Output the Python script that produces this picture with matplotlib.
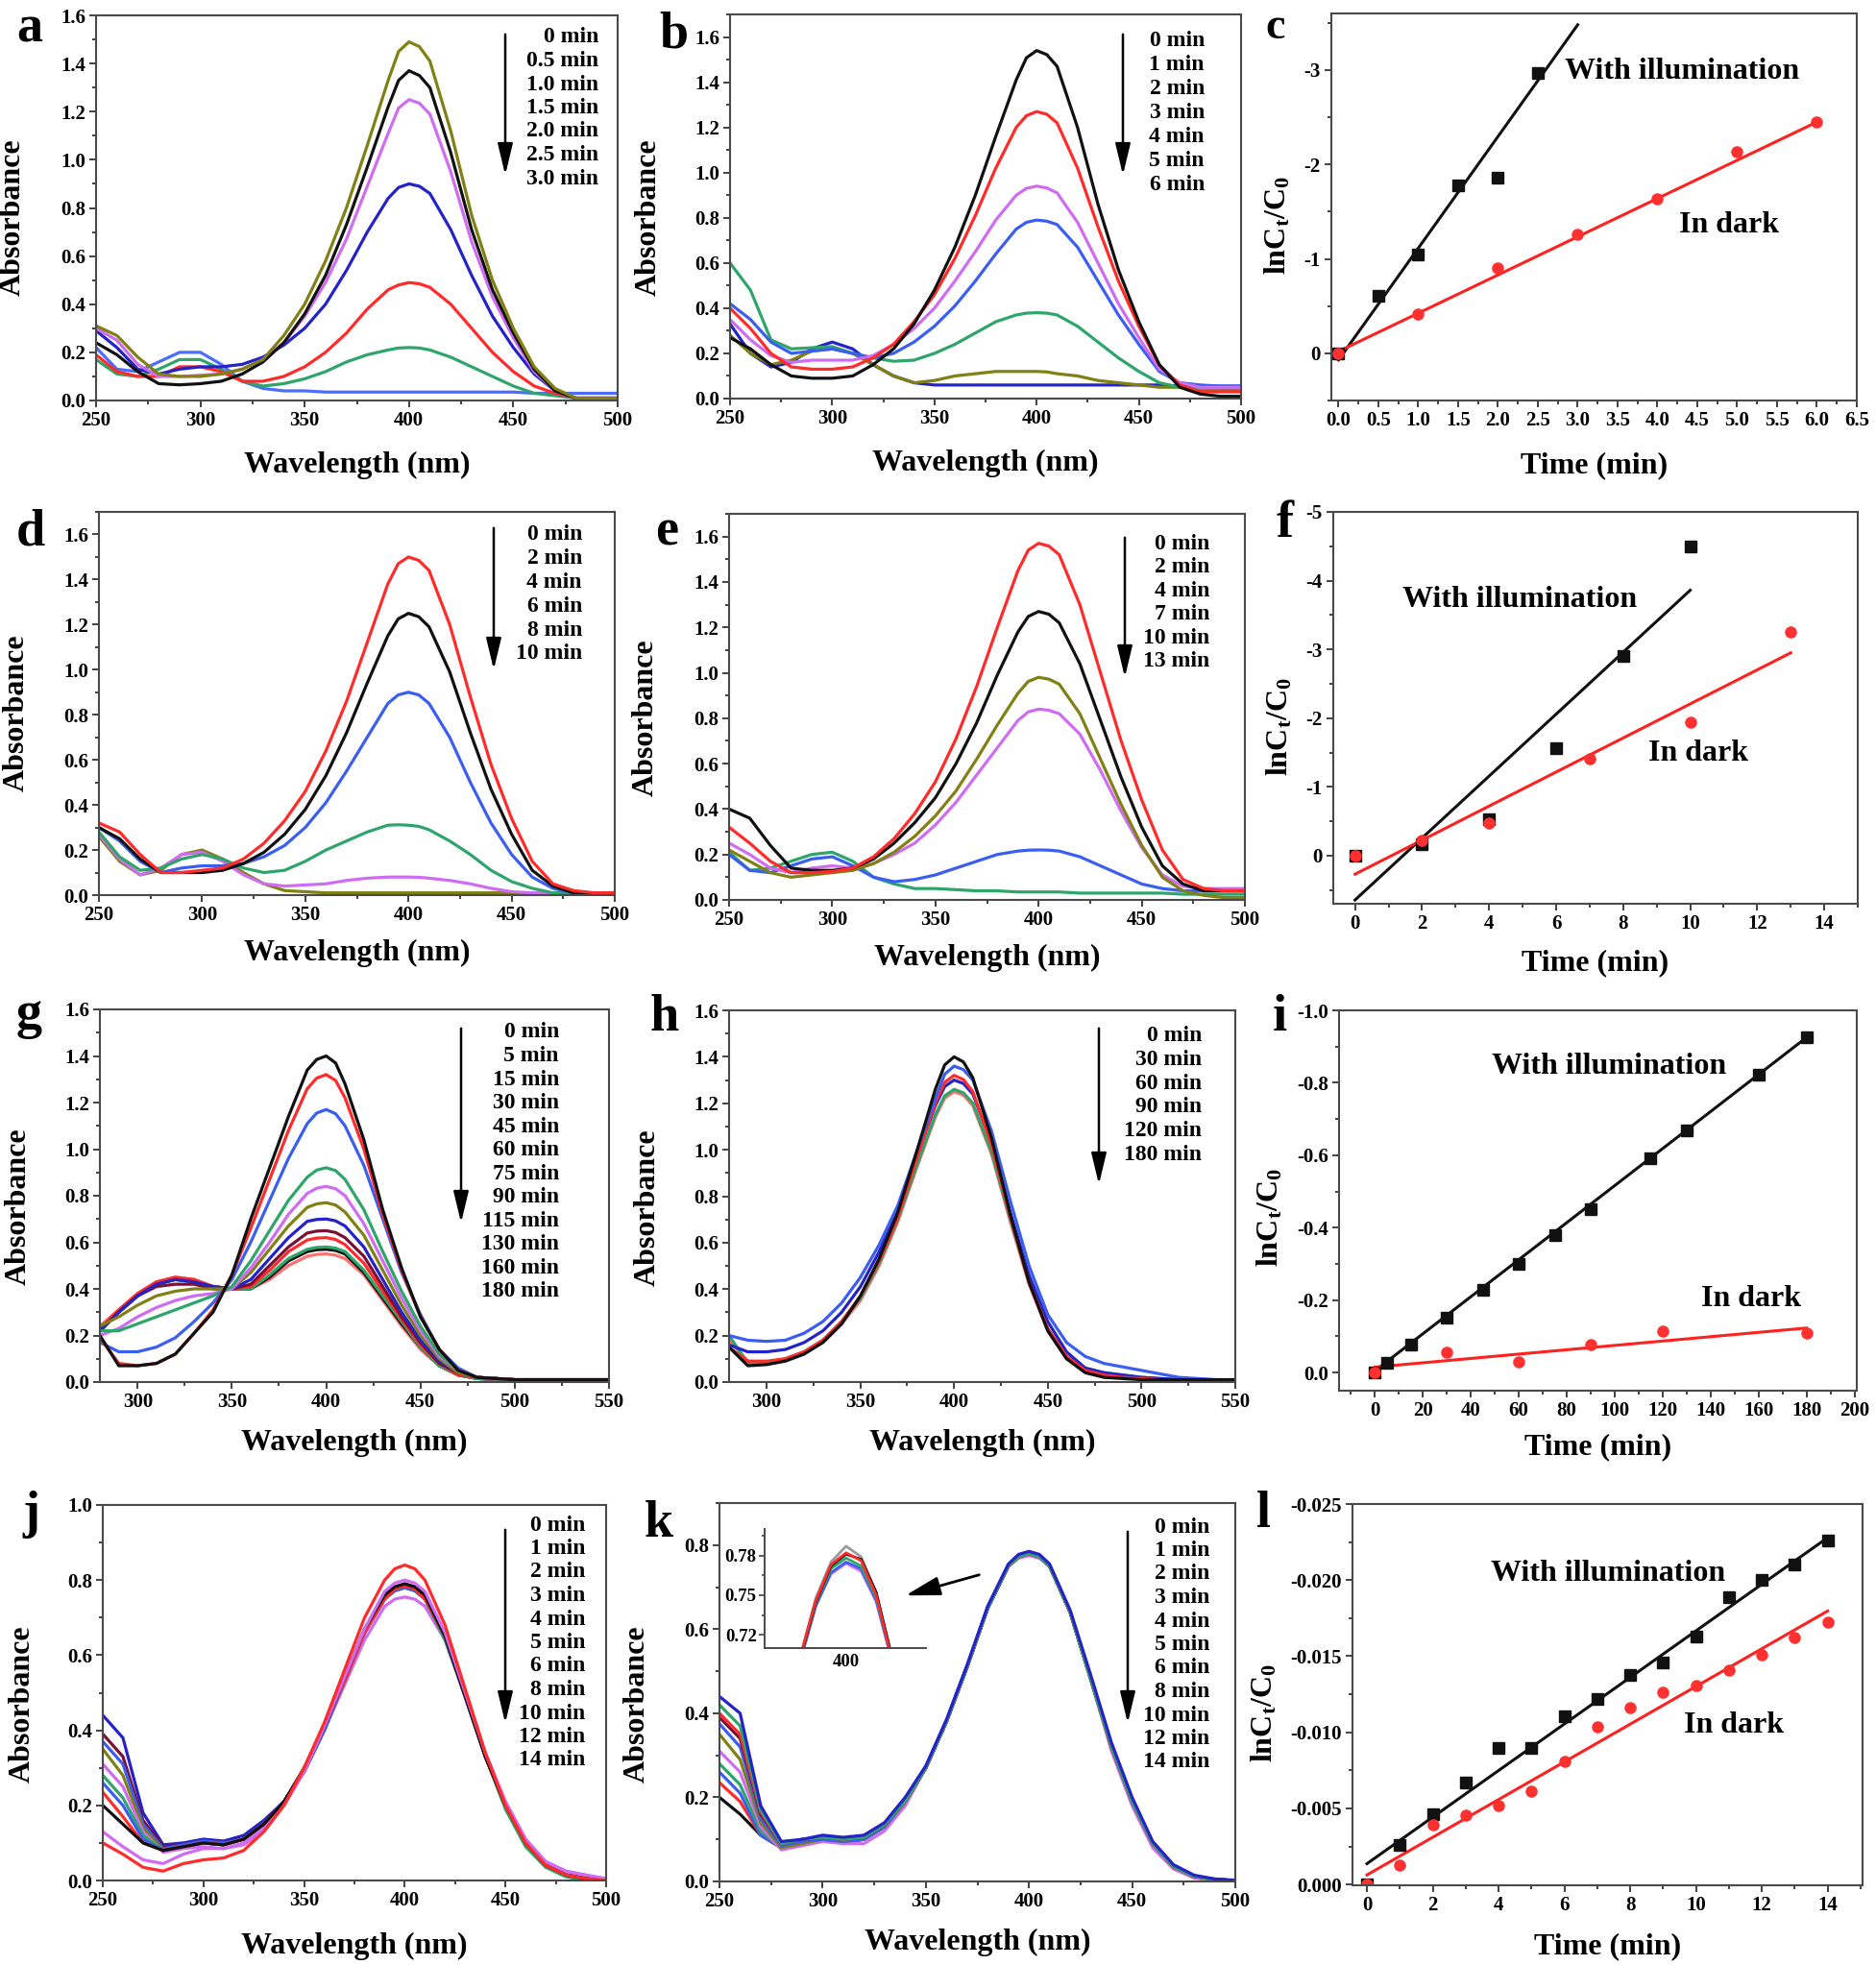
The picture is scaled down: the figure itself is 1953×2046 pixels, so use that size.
import matplotlib
matplotlib.use("Agg")
import matplotlib.pyplot as plt
from matplotlib.patches import FancyArrowPatch
from matplotlib.ticker import MultipleLocator, FormatStrFormatter, FuncFormatter

W, H = 1953, 2046

plt.rcParams.update({
    "font.family": ["Liberation Serif", "DejaVu Serif"],
    "font.weight": "bold",
    "axes.labelweight": "bold",
    "mathtext.fontset": "custom",
    "mathtext.rm": "Liberation Serif:bold",
    "mathtext.it": "Liberation Serif:bold",
    "mathtext.bf": "Liberation Serif:bold",
    "mathtext.default": "bf",
    "axes.unicode_minus": False,
})

BLACK = "#111111"
RED = "#ff2b2b"
BLUE = "#3c5ef0"
DBLUE = "#2323c8"
LBLUE = "#4a6cff"
GREEN = "#2ea56a"
VIOLET = "#cf6cf2"
OLIVE = "#808014"
MAROON = "#7a1035"
SALMON = "#ff7070"
GRAY = "#9a9a9a"
FRAME = "#4a4a4a"

# ---------------- data ----------------
# sampling wavelengths (nm); extra points around the 400 nm band maximum
WL_250 = [250, 260, 270, 280, 290, 300, 310, 320,
          330, 340, 350, 360, 370, 380, 390,
          395, 400, 405,
          410, 420, 430, 440, 450, 460, 470, 480, 490, 500]
WL_280 = [280, 290, 300, 310, 320, 330, 340, 350, 360, 370, 380, 390,
          395, 400, 405,
          410, 420, 430, 440, 450, 460, 470, 480, 490, 500, 510, 520, 530, 540, 550]

# panel a
A_OLIVE = [0.31, 0.27, 0.18, 0.11, 0.10, 0.10, 0.11, 0.13,
           0.17, 0.27, 0.40, 0.58, 0.80, 1.06, 1.33,
           1.45, 1.49, 1.47,
           1.41, 1.12, 0.77, 0.50, 0.30, 0.14, 0.05, 0.01, 0.01, 0.01]
A_BLACK = [0.24, 0.19, 0.12, 0.07, 0.065, 0.07, 0.08, 0.11,
           0.16, 0.24, 0.36, 0.52, 0.73, 0.97, 1.22,
           1.33, 1.37, 1.35,
           1.30, 1.03, 0.71, 0.46, 0.28, 0.13, 0.04, 0.01, 0.005, 0.005]
A_VIOLET = [0.30, 0.25, 0.15, 0.10, 0.10, 0.105, 0.11, 0.13,
            0.17, 0.24, 0.35, 0.49, 0.67, 0.89, 1.11,
            1.215, 1.25, 1.235,
            1.19, 0.95, 0.66, 0.43, 0.26, 0.12, 0.04, 0.01, 0.01, 0.01]
A_BLUE = [0.29, 0.22, 0.13, 0.11, 0.13, 0.14, 0.14, 0.15,
          0.18, 0.23, 0.30, 0.40, 0.54, 0.70, 0.84,
          0.885, 0.90, 0.89,
          0.86, 0.71, 0.52, 0.35, 0.22, 0.11, 0.04, 0.01, 0.01, 0.01]
A_RED = [0.19, 0.12, 0.10, 0.10, 0.14, 0.14, 0.12, 0.08,
         0.08, 0.10, 0.14, 0.20, 0.28, 0.38, 0.46,
         0.48, 0.49, 0.485,
         0.47, 0.40, 0.30, 0.20, 0.12, 0.06, 0.03, 0.01, 0.01, 0.01]
A_GREEN = [0.17, 0.11, 0.10, 0.13, 0.17, 0.17, 0.13, 0.08,
           0.06, 0.07, 0.09, 0.12, 0.16, 0.19, 0.21,
           0.218, 0.22, 0.218,
           0.21, 0.18, 0.14, 0.10, 0.06, 0.03, 0.02, 0.01, 0.01, 0.01]
A_LBLUE = [0.22, 0.13, 0.12, 0.16, 0.20, 0.20, 0.15, 0.08,
           0.05, 0.04, 0.04, 0.035, 0.035, 0.035, 0.035,
           0.035, 0.035, 0.035,
           0.035, 0.035, 0.035, 0.035, 0.035, 0.03, 0.03, 0.03, 0.03, 0.03]
A_LABELS = ["0 min", "0.5 min", "1.0 min", "1.5 min", "2.0 min", "2.5 min", "3.0 min"]

# panel b
B_BLACK = [0.27, 0.22, 0.15, 0.10, 0.09, 0.09, 0.10, 0.15,
           0.22, 0.33, 0.48, 0.67, 0.90, 1.16, 1.41,
           1.508, 1.54, 1.522,
           1.47, 1.20, 0.86, 0.57, 0.34, 0.15, 0.05, 0.02, 0.01, 0.01]
B_RED = [0.40, 0.31, 0.20, 0.14, 0.13, 0.13, 0.14, 0.18,
         0.24, 0.34, 0.46, 0.62, 0.81, 1.02, 1.20,
         1.252, 1.27, 1.258,
         1.22, 1.02, 0.76, 0.52, 0.32, 0.15, 0.06, 0.03, 0.03, 0.03]
B_VIOLET = [0.35, 0.26, 0.19, 0.16, 0.17, 0.17, 0.17, 0.19,
            0.24, 0.31, 0.40, 0.52, 0.65, 0.79, 0.90,
            0.93, 0.94, 0.932,
            0.91, 0.78, 0.60, 0.42, 0.27, 0.13, 0.07, 0.05, 0.05, 0.05]
B_BLUE = [0.42, 0.35, 0.25, 0.20, 0.21, 0.22, 0.20, 0.18,
          0.20, 0.25, 0.32, 0.41, 0.52, 0.64, 0.75,
          0.78, 0.79, 0.785,
          0.77, 0.67, 0.52, 0.37, 0.24, 0.12, 0.07, 0.06, 0.055, 0.055]
B_GREEN = [0.60, 0.48, 0.26, 0.22, 0.225, 0.23, 0.20, 0.18,
           0.165, 0.17, 0.20, 0.24, 0.29, 0.34, 0.37,
           0.378, 0.38, 0.378,
           0.37, 0.32, 0.25, 0.18, 0.12, 0.07, 0.05, 0.045, 0.045, 0.045]
B_OLIVE = [0.28, 0.20, 0.15, 0.17, 0.21, 0.22, 0.20, 0.15,
           0.10, 0.07, 0.08, 0.10, 0.11, 0.12, 0.12,
           0.12, 0.12, 0.118,
           0.11, 0.10, 0.08, 0.07, 0.06, 0.05, 0.05, 0.04, 0.04, 0.04]
B_DBLUE = [0.33, 0.20, 0.14, 0.16, 0.22, 0.25, 0.22, 0.15,
           0.10, 0.07, 0.06, 0.06, 0.06, 0.06, 0.06,
           0.06, 0.06, 0.06,
           0.06, 0.06, 0.06, 0.06, 0.06, 0.06, 0.055, 0.055, 0.055, 0.055]
B_LABELS = ["0 min", "1 min", "2 min", "3 min", "4 min", "5 min", "6 min"]

# panel d
D_RED = [0.32, 0.28, 0.18, 0.10, 0.10, 0.11, 0.12, 0.16,
         0.23, 0.33, 0.46, 0.64, 0.86, 1.12, 1.38,
         1.47, 1.50, 1.485,
         1.44, 1.20, 0.88, 0.58, 0.34, 0.15, 0.05, 0.02, 0.01, 0.01]
D_BLACK = [0.30, 0.25, 0.16, 0.10, 0.10, 0.10, 0.11, 0.14,
           0.19, 0.27, 0.38, 0.53, 0.72, 0.94, 1.15,
           1.225, 1.25, 1.235,
           1.19, 0.99, 0.72, 0.47, 0.27, 0.11, 0.04, 0.01, 0.01, 0.01]
D_BLUE = [0.30, 0.24, 0.15, 0.10, 0.12, 0.13, 0.13, 0.14,
          0.17, 0.22, 0.30, 0.41, 0.55, 0.70, 0.85,
          0.888, 0.90, 0.888,
          0.85, 0.70, 0.50, 0.32, 0.18, 0.08, 0.03, 0.01, 0.01, 0.01]
D_GREEN = [0.28, 0.17, 0.11, 0.12, 0.16, 0.18, 0.16, 0.12,
           0.10, 0.11, 0.15, 0.20, 0.24, 0.28, 0.31,
           0.312, 0.31, 0.305,
           0.29, 0.24, 0.18, 0.11, 0.06, 0.03, 0.01, 0.01, 0.01, 0.01]
D_VIOLET = [0.27, 0.16, 0.09, 0.12, 0.18, 0.19, 0.15, 0.09,
            0.05, 0.04, 0.045, 0.05, 0.065, 0.075, 0.08,
            0.08, 0.08, 0.079,
            0.075, 0.065, 0.05, 0.03, 0.015, 0.01, 0.01, 0.005, 0.005, 0.005]
D_OLIVE = [0.26, 0.15, 0.09, 0.11, 0.18, 0.20, 0.16, 0.10,
           0.05, 0.02, 0.015, 0.01, 0.01, 0.01, 0.01,
           0.01, 0.01, 0.01,
           0.01, 0.01, 0.01, 0.01, 0.01, 0.01, 0.01, 0.01, 0.01, 0.01]
D_LABELS = ["0 min", "2 min", "4 min", "6 min", "8 min", "10 min"]

# panel e
E_RED = [0.32, 0.25, 0.17, 0.12, 0.12, 0.125, 0.14, 0.19,
         0.27, 0.38, 0.52, 0.71, 0.94, 1.20, 1.45,
         1.54, 1.57, 1.558,
         1.52, 1.30, 1.00, 0.70, 0.44, 0.22, 0.09, 0.05, 0.04, 0.04]
E_BLACK = [0.40, 0.36, 0.24, 0.14, 0.13, 0.13, 0.14, 0.18,
           0.25, 0.34, 0.45, 0.60, 0.78, 0.99, 1.18,
           1.248, 1.27, 1.258,
           1.22, 1.04, 0.79, 0.54, 0.32, 0.15, 0.07, 0.04, 0.04, 0.04]
E_OLIVE = [0.22, 0.17, 0.12, 0.10, 0.11, 0.12, 0.13, 0.16,
           0.21, 0.28, 0.37, 0.48, 0.62, 0.77, 0.91,
           0.962, 0.98, 0.972,
           0.95, 0.82, 0.62, 0.42, 0.24, 0.10, 0.04, 0.02, 0.01, 0.01]
E_VIOLET = [0.25, 0.20, 0.14, 0.12, 0.14, 0.15, 0.14, 0.16,
            0.20, 0.25, 0.33, 0.43, 0.55, 0.67, 0.79,
            0.828, 0.84, 0.835,
            0.82, 0.73, 0.57, 0.39, 0.23, 0.11, 0.06, 0.05, 0.05, 0.05]
E_BLUE = [0.20, 0.13, 0.12, 0.15, 0.18, 0.19, 0.15, 0.10,
          0.08, 0.09, 0.11, 0.14, 0.17, 0.20, 0.215,
          0.219, 0.22, 0.219,
          0.215, 0.19, 0.15, 0.11, 0.07, 0.05, 0.04, 0.04, 0.04, 0.04]
E_GREEN = [0.21, 0.13, 0.14, 0.17, 0.20, 0.21, 0.17, 0.10,
           0.07, 0.05, 0.05, 0.045, 0.04, 0.04, 0.035,
           0.035, 0.035, 0.035,
           0.035, 0.03, 0.03, 0.03, 0.03, 0.03, 0.025, 0.025, 0.025, 0.025]
E_LABELS = ["0 min", "2 min", "4 min", "7 min", "10 min", "13 min"]

# panel g
G_BLACK = [0.20, 0.07, 0.07, 0.08, 0.12, 0.21, 0.30, 0.46, 0.70, 0.92, 1.14, 1.34,
           1.385, 1.40, 1.37,
           1.28, 1.04, 0.74, 0.49, 0.28, 0.14, 0.05, 0.02, 0.015, 0.01,
           0.01, 0.01, 0.01, 0.01, 0.01]
G_RED = [0.19, 0.08, 0.07, 0.08, 0.12, 0.21, 0.31, 0.46, 0.66, 0.87, 1.08, 1.26,
         1.305, 1.32, 1.295,
         1.22, 1.00, 0.72, 0.48, 0.28, 0.14, 0.05, 0.02, 0.015, 0.01,
         0.01, 0.01, 0.01, 0.01, 0.01]
G_BLUE = [0.17, 0.13, 0.13, 0.15, 0.19, 0.26, 0.34, 0.44, 0.60, 0.78, 0.96, 1.11,
          1.155, 1.17, 1.152,
          1.10, 0.93, 0.70, 0.47, 0.29, 0.14, 0.06, 0.02, 0.015, 0.01,
          0.01, 0.01, 0.01, 0.01, 0.01]
G_GREEN = [0.22, 0.22, 0.25, 0.28, 0.31, 0.34, 0.37, 0.41, 0.52, 0.65, 0.78, 0.88,
           0.91, 0.92, 0.908,
           0.87, 0.74, 0.56, 0.39, 0.24, 0.12, 0.05, 0.02, 0.015, 0.01,
           0.01, 0.01, 0.01, 0.01, 0.01]
G_VIOLET = [0.20, 0.23, 0.28, 0.32, 0.35, 0.37, 0.38, 0.40, 0.49, 0.60, 0.72, 0.81,
            0.832, 0.84, 0.83,
            0.80, 0.68, 0.52, 0.36, 0.22, 0.11, 0.05, 0.02, 0.015, 0.01,
            0.01, 0.01, 0.01, 0.01, 0.01]
G_OLIVE = [0.24, 0.28, 0.33, 0.37, 0.39, 0.40, 0.40, 0.40, 0.47, 0.57, 0.67, 0.75,
           0.765, 0.77, 0.76,
           0.73, 0.63, 0.48, 0.33, 0.20, 0.10, 0.04, 0.02, 0.015, 0.01,
           0.01, 0.01, 0.01, 0.01, 0.01]
G_DBLUE = [0.22, 0.30, 0.37, 0.42, 0.44, 0.43, 0.41, 0.40, 0.44, 0.53, 0.62, 0.69,
           0.698, 0.70, 0.692,
           0.67, 0.58, 0.44, 0.30, 0.18, 0.09, 0.04, 0.02, 0.015, 0.01,
           0.01, 0.01, 0.01, 0.01, 0.01]
G_MAROON = [0.22, 0.30, 0.37, 0.41, 0.42, 0.42, 0.40, 0.40, 0.42, 0.50, 0.58, 0.64,
            0.648, 0.65, 0.642,
            0.62, 0.54, 0.41, 0.28, 0.17, 0.08, 0.04, 0.02, 0.015, 0.01,
            0.01, 0.01, 0.01, 0.01, 0.01]
G_RED2 = [0.23, 0.31, 0.38, 0.43, 0.45, 0.44, 0.41, 0.40, 0.41, 0.48, 0.56, 0.61,
          0.618, 0.62, 0.612,
          0.59, 0.51, 0.39, 0.27, 0.16, 0.08, 0.03, 0.02, 0.015, 0.01,
          0.01, 0.01, 0.01, 0.01, 0.01]
G_GREEN2 = [0.22, 0.30, 0.37, 0.42, 0.44, 0.43, 0.41, 0.40, 0.40, 0.46, 0.53, 0.57,
            0.578, 0.58, 0.575,
            0.56, 0.48, 0.37, 0.26, 0.15, 0.07, 0.03, 0.015, 0.01, 0.01,
            0.01, 0.01, 0.01, 0.01, 0.01]
G_BLACK2 = [0.22, 0.30, 0.37, 0.42, 0.44, 0.43, 0.41, 0.40, 0.40, 0.45, 0.52, 0.56,
            0.568, 0.57, 0.565,
            0.55, 0.47, 0.36, 0.25, 0.15, 0.07, 0.03, 0.015, 0.01, 0.01,
            0.01, 0.01, 0.01, 0.01, 0.01]
G_SALMON = [0.24, 0.31, 0.38, 0.43, 0.45, 0.44, 0.41, 0.40, 0.40, 0.44, 0.50, 0.54,
            0.548, 0.55, 0.545,
            0.53, 0.46, 0.35, 0.24, 0.14, 0.07, 0.03, 0.015, 0.01, 0.01,
            0.01, 0.01, 0.01, 0.01, 0.01]
G_LABELS = ["0 min", "5 min", "15 min", "30 min", "45 min", "60 min", "75 min",
            "90 min", "115 min", "130 min", "160 min", "180 min"]

# panel h
H_BLACK = [0.15, 0.07, 0.075, 0.09, 0.12, 0.17, 0.25, 0.37, 0.53, 0.73, 0.99, 1.26,
           1.365, 1.40, 1.378,
           1.31, 1.05, 0.72, 0.43, 0.22, 0.10, 0.04, 0.02, 0.015, 0.01,
           0.01, 0.01, 0.01, 0.01, 0.01]
H_BLUE = [0.20, 0.18, 0.175, 0.18, 0.21, 0.26, 0.34, 0.45, 0.59, 0.76, 0.99, 1.22,
          1.325, 1.36, 1.345,
          1.30, 1.08, 0.78, 0.50, 0.29, 0.17, 0.11, 0.08, 0.065, 0.05,
          0.035, 0.02, 0.015, 0.01, 0.01]
H_RED = [0.15, 0.09, 0.09, 0.10, 0.13, 0.18, 0.26, 0.37, 0.52, 0.71, 0.96, 1.20,
         1.29, 1.32, 1.302,
         1.25, 1.02, 0.71, 0.43, 0.23, 0.11, 0.05, 0.03, 0.02, 0.015,
         0.01, 0.01, 0.01, 0.01, 0.01]
H_DBLUE = [0.16, 0.13, 0.13, 0.14, 0.17, 0.22, 0.30, 0.41, 0.56, 0.74, 0.97, 1.19,
           1.272, 1.30, 1.285,
           1.24, 1.03, 0.73, 0.46, 0.26, 0.13, 0.06, 0.04, 0.03, 0.02,
           0.015, 0.01, 0.01, 0.01, 0.01]
H_GREEN = [0.20, 0.08, 0.08, 0.10, 0.13, 0.18, 0.26, 0.36, 0.51, 0.70, 0.93, 1.15,
           1.232, 1.26, 1.245,
           1.20, 0.99, 0.70, 0.43, 0.23, 0.11, 0.06, 0.04, 0.03, 0.02,
           0.015, 0.01, 0.01, 0.01, 0.01]
H_SALMON = [0.18, 0.09, 0.085, 0.10, 0.13, 0.17, 0.25, 0.35, 0.50, 0.69, 0.92, 1.14,
            1.222, 1.25, 1.235,
            1.19, 0.98, 0.69, 0.42, 0.22, 0.10, 0.05, 0.03, 0.02, 0.015,
            0.01, 0.01, 0.01, 0.01, 0.01]
H_LABELS = ["0 min", "30 min", "60 min", "90 min", "120 min", "180 min"]

# panel j
J_RED = [0.10, 0.07, 0.035, 0.025, 0.045, 0.055, 0.06, 0.08,
         0.13, 0.20, 0.30, 0.42, 0.56, 0.70, 0.80,
         0.83, 0.84, 0.83,
         0.80, 0.68, 0.51, 0.34, 0.20, 0.10, 0.04, 0.015, 0.005, 0.0]
J_VIOLET = [0.13, 0.09, 0.055, 0.045, 0.07, 0.085, 0.085, 0.095,
            0.13, 0.20, 0.29, 0.41, 0.54, 0.67, 0.77,
            0.792, 0.80, 0.792,
            0.77, 0.66, 0.50, 0.34, 0.21, 0.11, 0.05, 0.025, 0.015, 0.005]
J_BLACK = [0.20, 0.15, 0.10, 0.08, 0.09, 0.10, 0.095, 0.11,
           0.15, 0.21, 0.30, 0.41, 0.54, 0.67, 0.76,
           0.782, 0.79, 0.782,
           0.76, 0.65, 0.49, 0.33, 0.20, 0.10, 0.04, 0.015, 0.005, 0.0]
J_RED2 = [0.235, 0.17, 0.10, 0.08, 0.09, 0.10, 0.095, 0.11,
          0.15, 0.21, 0.29, 0.41, 0.53, 0.66, 0.75,
          0.776, 0.785, 0.776,
          0.75, 0.65, 0.49, 0.33, 0.20, 0.10, 0.04, 0.015, 0.005, 0.0]
J_BLUE = [0.26, 0.20, 0.11, 0.08, 0.09, 0.10, 0.095, 0.11,
          0.15, 0.21, 0.29, 0.40, 0.53, 0.66, 0.75,
          0.772, 0.78, 0.772,
          0.75, 0.65, 0.49, 0.33, 0.20, 0.10, 0.04, 0.015, 0.005, 0.0]
J_GREEN = [0.28, 0.22, 0.12, 0.08, 0.09, 0.10, 0.095, 0.11,
           0.15, 0.21, 0.29, 0.40, 0.53, 0.66, 0.75,
           0.772, 0.78, 0.772,
           0.75, 0.64, 0.49, 0.33, 0.19, 0.09, 0.035, 0.01, 0.0, 0.0]
J_VIOLET2 = [0.31, 0.25, 0.13, 0.075, 0.085, 0.09, 0.085, 0.10,
             0.14, 0.20, 0.29, 0.40, 0.52, 0.64, 0.73,
             0.749, 0.755, 0.749,
             0.73, 0.64, 0.49, 0.34, 0.21, 0.11, 0.05, 0.025, 0.012, 0.005]
J_OLIVE = [0.35, 0.28, 0.14, 0.08, 0.09, 0.10, 0.095, 0.11,
           0.15, 0.21, 0.29, 0.40, 0.53, 0.66, 0.75,
           0.772, 0.78, 0.772,
           0.75, 0.65, 0.49, 0.33, 0.20, 0.10, 0.04, 0.015, 0.005, 0.0]
J_BLUE2 = [0.37, 0.31, 0.15, 0.085, 0.095, 0.105, 0.10, 0.11,
           0.15, 0.21, 0.29, 0.40, 0.53, 0.66, 0.75,
           0.772, 0.78, 0.772,
           0.75, 0.65, 0.49, 0.33, 0.20, 0.10, 0.04, 0.015, 0.005, 0.0]
J_MAROON = [0.39, 0.33, 0.16, 0.09, 0.095, 0.105, 0.10, 0.11,
            0.15, 0.21, 0.29, 0.40, 0.53, 0.66, 0.76,
            0.782, 0.79, 0.782,
            0.76, 0.65, 0.49, 0.33, 0.20, 0.10, 0.04, 0.015, 0.005, 0.0]
J_DBLUE = [0.44, 0.38, 0.18, 0.095, 0.10, 0.11, 0.105, 0.12,
           0.16, 0.21, 0.29, 0.40, 0.53, 0.66, 0.75,
           0.772, 0.78, 0.772,
           0.75, 0.65, 0.49, 0.33, 0.20, 0.10, 0.04, 0.015, 0.005, 0.0]
JK_LABELS = ["0 min", "1 min", "2 min", "3 min", "4 min", "5 min", "6 min",
             "8 min", "10 min", "12 min", "14 min"]

# panel k
K_BLACK = [0.20, 0.16, 0.11, 0.08, 0.09, 0.10, 0.095, 0.10,
           0.13, 0.19, 0.27, 0.38, 0.51, 0.65, 0.75,
           0.772, 0.78, 0.772,
           0.75, 0.64, 0.48, 0.32, 0.19, 0.09, 0.035, 0.012, 0.005, 0.002]
K_RED = [0.235, 0.19, 0.11, 0.08, 0.09, 0.10, 0.095, 0.10,
         0.13, 0.19, 0.27, 0.38, 0.51, 0.65, 0.75,
         0.772, 0.78, 0.772,
         0.75, 0.64, 0.48, 0.32, 0.19, 0.09, 0.033, 0.01, 0.004, 0.002]
K_BLUE = [0.26, 0.21, 0.11, 0.08, 0.09, 0.10, 0.095, 0.10,
          0.13, 0.19, 0.27, 0.38, 0.51, 0.65, 0.75,
          0.772, 0.78, 0.772,
          0.75, 0.64, 0.48, 0.32, 0.19, 0.09, 0.035, 0.012, 0.005, 0.002]
K_GREEN = [0.28, 0.23, 0.12, 0.08, 0.09, 0.10, 0.095, 0.10,
           0.13, 0.19, 0.27, 0.38, 0.51, 0.65, 0.75,
           0.772, 0.78, 0.772,
           0.75, 0.64, 0.48, 0.32, 0.19, 0.09, 0.035, 0.012, 0.005, 0.002]
K_VIOLET = [0.31, 0.26, 0.13, 0.075, 0.085, 0.095, 0.09, 0.09,
            0.12, 0.18, 0.27, 0.38, 0.51, 0.65, 0.75,
            0.769, 0.775, 0.769,
            0.75, 0.64, 0.48, 0.31, 0.18, 0.08, 0.03, 0.008, 0.003, 0.001]
K_OLIVE = [0.35, 0.29, 0.14, 0.08, 0.09, 0.10, 0.095, 0.10,
           0.13, 0.19, 0.27, 0.38, 0.51, 0.65, 0.75,
           0.772, 0.78, 0.772,
           0.75, 0.64, 0.48, 0.32, 0.19, 0.09, 0.035, 0.012, 0.005, 0.002]
K_BLUE2 = [0.375, 0.32, 0.15, 0.085, 0.095, 0.10, 0.095, 0.10,
           0.13, 0.19, 0.27, 0.38, 0.51, 0.65, 0.75,
           0.772, 0.78, 0.772,
           0.75, 0.64, 0.48, 0.32, 0.19, 0.09, 0.035, 0.012, 0.005, 0.002]
K_MAROON = [0.39, 0.34, 0.16, 0.09, 0.10, 0.105, 0.10, 0.105,
            0.135, 0.19, 0.27, 0.38, 0.51, 0.65, 0.75,
            0.772, 0.78, 0.772,
            0.75, 0.64, 0.48, 0.32, 0.19, 0.09, 0.035, 0.012, 0.005, 0.002]
K_RED2 = [0.40, 0.35, 0.165, 0.09, 0.10, 0.105, 0.10, 0.105,
          0.135, 0.19, 0.27, 0.38, 0.51, 0.65, 0.75,
          0.772, 0.78, 0.772,
          0.75, 0.64, 0.48, 0.32, 0.19, 0.09, 0.035, 0.012, 0.005, 0.002]
K_GREEN2 = [0.42, 0.37, 0.17, 0.09, 0.10, 0.105, 0.10, 0.105,
            0.135, 0.19, 0.27, 0.38, 0.51, 0.65, 0.75,
            0.772, 0.78, 0.772,
            0.75, 0.64, 0.48, 0.32, 0.19, 0.09, 0.035, 0.012, 0.005, 0.002]
K_DBLUE = [0.44, 0.40, 0.18, 0.095, 0.10, 0.11, 0.105, 0.11,
           0.14, 0.20, 0.275, 0.385, 0.515, 0.655, 0.755,
           0.778, 0.785, 0.778,
           0.755, 0.645, 0.49, 0.33, 0.20, 0.095, 0.04, 0.015, 0.006, 0.003]

# inset of panel k (peak region)
INSET_WL = [385, 390, 395, 400, 405, 410, 415]
INSET_GRAY = [0.705, 0.748, 0.775, 0.787, 0.779, 0.752, 0.705]
INSET_RED = [0.705, 0.746, 0.773, 0.782, 0.776, 0.750, 0.703]
INSET_BLACK = [0.704, 0.745, 0.772, 0.781, 0.777, 0.752, 0.705]
INSET_GREEN = [0.703, 0.744, 0.770, 0.778, 0.772, 0.748, 0.703]
INSET_BLUE = [0.702, 0.742, 0.767, 0.775, 0.770, 0.746, 0.702]
INSET_VIOLET = [0.702, 0.742, 0.766, 0.774, 0.768, 0.745, 0.702]

# kinetics: c
C_T_ILL = [0.0, 0.5, 1.0, 1.5, 2.0, 2.5]
C_Y_ILL = [0.0, -0.61, -1.05, -1.78, -1.865, -2.97]
C_T_DARK = [0, 1, 2, 3, 4, 5, 6]
C_Y_DARK = [0.0, -0.42, -0.905, -1.265, -1.64, -2.14, -2.45]
C_FIT_ILL_T, C_FIT_ILL_Y = [0.0, 3.0], [0.07, -3.48]
C_FIT_DARK_T, C_FIT_DARK_Y = [0.0, 6.0], [-0.02, -2.45]

# kinetics: f
F_T_ILL = [0, 2, 4, 6, 8, 10]
F_Y_ILL = [0.0, -0.17, -0.53, -1.57, -2.90, -4.50]
F_T_DARK = [0, 2, 4, 7, 10, 13]
F_Y_DARK = [0.0, -0.22, -0.48, -1.41, -1.94, -3.26]
F_FIT_ILL_T, F_FIT_ILL_Y = [0, 10], [0.645, -3.86]
F_FIT_DARK_T, F_FIT_DARK_Y = [0, 13], [0.27, -2.95]

# kinetics: i
I_T_ILL = [0, 5, 15, 30, 45, 60, 75, 90, 115, 130, 160, 180]
I_Y_ILL = [0.0, -0.027, -0.078, -0.151, -0.229, -0.301, -0.380, -0.452,
           -0.591, -0.669, -0.822, -0.927]
I_T_DARK = [0, 30, 60, 90, 120, 180]
I_Y_DARK = [0.0, -0.057, -0.029, -0.078, -0.115, -0.109]
I_FIT_ILL_T, I_FIT_ILL_Y = [0, 180], [-0.005, -0.925]
I_FIT_DARK_T, I_FIT_DARK_Y = [0, 180], [-0.015, -0.123]

# kinetics: l
L_T = [0, 1, 2, 3, 4, 5, 6, 7, 8, 9, 10, 11, 12, 13, 14]
L_Y_ILL = [0.0, -0.00263, -0.00463, -0.00668, -0.00895, -0.0090, -0.01106,
           -0.01219, -0.0138, -0.0146, -0.01632, -0.01885, -0.0200,
           -0.02104, -0.02258]
L_Y_DARK = [0.0, -0.00126, -0.0039, -0.00457, -0.00516, -0.00615, -0.00811,
            -0.01036, -0.01165, -0.01264, -0.01306, -0.01407, -0.0151,
            -0.01626, -0.01723]
L_FIT_ILL_T, L_FIT_ILL_Y = [0, 14], [-0.00137, -0.02279]
L_FIT_DARK_T, L_FIT_DARK_Y = [0, 14], [-0.00063, -0.01797]


# ---------------- helpers ----------------
fig = plt.figure(figsize=(W / 100, H / 100), dpi=100)

TICK_SIZE = 15
LABEL_SIZE = 23
LEGEND_SIZE = 17
NOTE_SIZE = 23
LETTER_SIZE = 39


def fx(px):
    return px / W


def fy(py):
    return 1 - py / H


def px_rect(l, t, r, b):
    return [l / W, 1 - b / H, (r - l) / W, (b - t) / H]


def tick_fmt(fmt):
    # plain hyphen minus, and no "-0" on the zero tick
    def f(v, pos):
        if abs(v) < 1e-9:
            v = 0.0
        return fmt % v
    return FuncFormatter(f)


def style(ax, xmaj, xmin, ymaj, ymin, xfmt, yfmt, size=TICK_SIZE):
    for s in ax.spines.values():
        s.set_color(FRAME)
        s.set_linewidth(1.5)
    ax.xaxis.set_major_locator(MultipleLocator(xmaj))
    ax.xaxis.set_minor_locator(MultipleLocator(xmin))
    ax.yaxis.set_major_locator(MultipleLocator(ymaj))
    ax.yaxis.set_minor_locator(MultipleLocator(ymin))
    ax.xaxis.set_major_formatter(tick_fmt(xfmt))
    ax.yaxis.set_major_formatter(tick_fmt(yfmt))
    ax.tick_params(which="both", direction="out", top=False, right=False,
                   color="#333333", width=1.3, labelsize=size, pad=3)
    ax.tick_params(which="major", length=5)
    ax.tick_params(which="minor", length=3)


def labels(ax, xlabel, ylabel, xl_y, yl_x, yl_y):
    ax.set_xlabel(xlabel, fontsize=LABEL_SIZE)
    ax.xaxis.set_label_coords(0.5, xl_y)
    ax.set_ylabel(ylabel, fontsize=LABEL_SIZE)
    ax.yaxis.set_label_coords(yl_x, yl_y)


def letter(ch, x, y, size=LETTER_SIZE):
    fig.text(fx(x), fy(y), ch, fontsize=size, fontweight="bold",
             ha="left", va="baseline")


def time_legend(names, x_right, y_first, y_last, ax_x, ax_top, ax_bot):
    n = len(names)
    for i, name in enumerate(names):
        yy = y_first + (y_last - y_first) * i / (n - 1)
        fig.text(fx(x_right), fy(yy), name, fontsize=LEGEND_SIZE,
                 ha="right", va="center")
    arr = FancyArrowPatch((fx(ax_x), fy(ax_top)), (fx(ax_x), fy(ax_bot)),
                          transform=fig.transFigure,
                          arrowstyle="-|>,head_length=1.0,head_width=0.24",
                          mutation_scale=20, lw=1.8, color="black")
    fig.add_artist(arr)


def spectrum(rect, wl, curves, xlim, ylim, xl_y, yl_x, yl_y):
    ax = fig.add_axes(px_rect(*rect))
    for ys, col in curves:
        ax.plot(wl, ys, color=col, lw=2.3, solid_joinstyle="round")
    ax.set_xlim(*xlim)
    ax.set_ylim(*ylim)
    style(ax, 50, 25, 0.2, 0.1, "%d", "%.1f")
    labels(ax, "Wavelength (nm)", "Absorbance", xl_y, yl_x, yl_y)
    return ax


def kinetics(rect, ill, dark, fit_ill, fit_dark, xlim, ylim, ticks, fmts,
             xl_y, yl_x, yl_y, txt_ill, txt_dark, ms=8):
    ax = fig.add_axes(px_rect(*rect))
    ax.plot(fit_ill[0], fit_ill[1], color=BLACK, lw=2.2)
    ax.plot(fit_dark[0], fit_dark[1], color="#ff2020", lw=2.2)
    ax.plot(ill[0], ill[1], "s", color=BLACK, ms=ms, mec=BLACK)
    ax.plot(dark[0], dark[1], "o", color="#ff3030", ms=ms, mec="#ff3030")
    ax.set_xlim(*xlim)
    ax.set_ylim(*ylim)
    style(ax, *ticks, *fmts)
    labels(ax, "Time (min)", r"$lnC_t/C_0$", xl_y, yl_x, yl_y)
    fig.text(fx(txt_ill[0]), fy(txt_ill[1]), "With illumination",
             fontsize=NOTE_SIZE, ha="left", va="center")
    fig.text(fx(txt_dark[0]), fy(txt_dark[1]), "In dark",
             fontsize=NOTE_SIZE, ha="left", va="center")
    return ax


# ---------------- row 1 ----------------
spectrum((100, 16, 643, 417), WL_250,
         [(A_LBLUE, LBLUE), (A_GREEN, GREEN), (A_RED, RED), (A_BLUE, DBLUE),
          (A_VIOLET, VIOLET), (A_BLACK, BLACK), (A_OLIVE, OLIVE)],
         (250, 500), (0, 1.6), -0.132, -0.133, 0.476)
letter("a", 17, 44)
time_legend(A_LABELS, 623, 39, 186, 526, 33, 185)

spectrum((760, 15, 1292, 415), WL_250,
         [(B_DBLUE, DBLUE), (B_OLIVE, OLIVE), (B_GREEN, GREEN), (B_BLUE, BLUE),
          (B_VIOLET, VIOLET), (B_RED, RED), (B_BLACK, BLACK)],
         (250, 500), (0, 1.7), -0.1325, -0.132, 0.4725)
letter("b", 686, 50)
time_legend(B_LABELS, 1254, 43, 192, 1169, 33, 185)

kinetics((1386, 14, 1933, 417), (C_T_ILL, C_Y_ILL), (C_T_DARK, C_Y_DARK),
         (C_FIT_ILL_T, C_FIT_ILL_Y), (C_FIT_DARK_T, C_FIT_DARK_Y),
         (-0.09, 6.5), (0.5, -3.6), (0.5, 0.25, 1, 0.5), ("%.1f", "%d"),
         -0.1315, -0.074, 0.452, (1629, 75), (1748, 235))
letter("c", 1317, 40, size=33)

# ---------------- row 2 ----------------
spectrum((103, 533, 640, 932), WL_250,
         [(D_OLIVE, OLIVE), (D_VIOLET, VIOLET), (D_GREEN, GREEN), (D_BLUE, BLUE),
          (D_BLACK, BLACK), (D_RED, RED)],
         (250, 500), (0, 1.7), -0.115, -0.133, 0.476)
letter("d", 17, 567)
time_legend(D_LABELS, 606, 557, 681, 514, 547, 700)

spectrum((759, 535, 1296, 937), WL_250,
         [(E_GREEN, GREEN), (E_BLUE, BLUE), (E_VIOLET, VIOLET), (E_OLIVE, OLIVE),
          (E_BLACK, BLACK), (E_RED, RED)],
         (250, 500), (0, 1.7), -0.114, -0.135, 0.473)
letter("e", 682, 567)
time_legend(E_LABELS, 1259, 566, 689, 1171, 557, 708)

kinetics((1388, 533, 1934, 941), (F_T_ILL, F_Y_ILL), (F_T_DARK, F_Y_DARK),
         (F_FIT_ILL_T, F_FIT_ILL_Y), (F_FIT_DARK_T, F_FIT_DARK_Y),
         (-0.65, 15.0), (0.7, -5.0), (2, 1, 1, 0.5), ("%d", "%d"),
         -0.115, -0.074, 0.453, (1460, 625), (1716, 785))
letter("f", 1329, 559)

# ---------------- row 3 ----------------
spectrum((104, 1051, 634, 1439), WL_280,
         [(G_SALMON, SALMON), (G_BLACK2, BLACK), (G_GREEN2, GREEN), (G_RED2, RED),
          (G_MAROON, MAROON), (G_DBLUE, DBLUE), (G_OLIVE, OLIVE),
          (G_VIOLET, VIOLET), (G_GREEN, GREEN), (G_BLUE, BLUE), (G_RED, RED),
          (G_BLACK, BLACK)],
         (280, 550), (0, 1.6), -0.126, -0.133, 0.472)
letter("g", 17, 1070)
time_legend(G_LABELS, 582, 1075, 1345, 480, 1068, 1276)

spectrum((759, 1052, 1286, 1439), WL_280,
         [(H_SALMON, SALMON), (H_GREEN, GREEN), (H_DBLUE, DBLUE), (H_RED, RED),
          (H_BLUE, BLUE), (H_BLACK, BLACK)],
         (280, 550), (0, 1.6), -0.127, -0.134, 0.469)
letter("h", 677, 1073)
time_legend(H_LABELS, 1251, 1079, 1202, 1144, 1068, 1236)

kinetics((1394, 1052, 1933, 1448), (I_T_ILL, I_Y_ILL), (I_T_DARK, I_Y_DARK),
         (I_FIT_ILL_T, I_FIT_ILL_Y), (I_FIT_DARK_T, I_FIT_DARK_Y),
         (-15, 201), (0.05, -1.0), (20, 10, 0.2, 0.1), ("%d", "%.1f"),
         -0.111, -0.104, 0.455, (1553, 1110), (1771, 1353))
letter("i", 1325, 1073)

# ---------------- row 4 ----------------
spectrum((107, 1567, 631, 1958), WL_250,
         [(J_DBLUE, DBLUE), (J_MAROON, MAROON), (J_BLUE2, BLUE),
          (J_OLIVE, OLIVE), (J_VIOLET2, VIOLET), (J_GREEN, GREEN),
          (J_BLUE, BLUE), (J_RED2, RED), (J_BLACK, BLACK),
          (J_VIOLET, VIOLET), (J_RED, RED)],
         (250, 500), (0, 1.0), -0.138, -0.132, 0.47)
letter("j", 23, 1590)
time_legend(JK_LABELS, 609, 1588, 1833, 526, 1590, 1797)

spectrum((749, 1565, 1286, 1959), WL_250,
         [(K_BLACK, BLACK), (K_RED, RED), (K_BLUE, BLUE),
          (K_GREEN, GREEN), (K_VIOLET, VIOLET), (K_OLIVE, OLIVE),
          (K_BLUE2, BLUE), (K_MAROON, MAROON), (K_RED2, RED),
          (K_GREEN2, GREEN), (K_DBLUE, DBLUE)],
         (250, 500), (0, 0.9), -0.124, -0.133, 0.47)
letter("k", 671, 1600)
time_legend(JK_LABELS, 1259, 1590, 1835, 1174, 1592, 1797)

ax_in = fig.add_axes(px_rect(796, 1592, 964, 1716))
for ys, col in [(INSET_GRAY, GRAY), (INSET_VIOLET, VIOLET), (INSET_BLUE, BLUE),
                (INSET_GREEN, GREEN), (INSET_BLACK, BLACK), (INSET_RED, RED)]:
    ax_in.plot(INSET_WL, ys, color=col, lw=2.0)
ax_in.set_xlim(373, 426.5)
ax_in.set_ylim(0.71, 0.80)
ax_in.spines["top"].set_visible(False)
ax_in.spines["right"].set_visible(False)
for s in ("left", "bottom"):
    ax_in.spines[s].set_color(FRAME)
    ax_in.spines[s].set_linewidth(1.4)
ax_in.set_xticks([400])
ax_in.xaxis.set_major_formatter(FormatStrFormatter("%d"))
ax_in.yaxis.set_minor_locator(MultipleLocator(0.015))
ax_in.yaxis.set_major_formatter(FormatStrFormatter("%.2f"))
ax_in.set_yticks([0.72, 0.75, 0.78])
ax_in.tick_params(which="both", direction="out", labelsize=13.5, width=1.1,
                  color="#333333", pad=2)
ax_in.tick_params(axis="x", length=0, pad=4)
ax_in.tick_params(axis="y", which="major", length=4)
ax_in.tick_params(axis="y", which="minor", length=2.5)
fig.add_artist(FancyArrowPatch((fx(1022), fy(1639)), (fx(940), fy(1662)),
                               transform=fig.transFigure,
                               arrowstyle="-|>,head_length=1.1,head_width=0.3",
                               mutation_scale=20, lw=2.0, color="black"))

kinetics((1408, 1566, 1939, 1963), (L_T, L_Y_ILL), (L_T, L_Y_DARK),
         (L_FIT_ILL_T, L_FIT_ILL_Y), (L_FIT_DARK_T, L_FIT_DARK_Y),
         (-0.44, 15.06), (0.00005, -0.025), (2, 1, 0.005, 0.0025),
         ("%d", "%.3f"), -0.123, -0.145, 0.453, (1552, 1638), (1753, 1797),
         ms=8)
letter("l", 1308, 1590)

fig.savefig("out.png", dpi=100, facecolor="white")
